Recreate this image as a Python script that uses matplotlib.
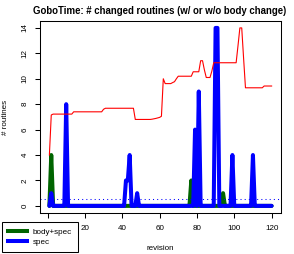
"""
GoboTime: number of changed routines per revision.

Thick lines for routines changed in body+spec and in spec only,
a thin red line on top, and a dotted line at the spec mean.
Saves out.png.
"""

import numpy as np
import matplotlib

matplotlib.use("Agg")
import matplotlib.pyplot as plt
from matplotlib.lines import Line2D


OUT_PNG = "out.png"

TITLE = "GoboTime: # changed routines (w/ or w/o body change)"
X_LABEL = "revision"
Y_LABEL = "# routines"
LEGEND_LABELS = ["body+spec", "spec"]

X_TICKS = [0, 20, 40, 60, 80, 100, 120]
# the "0" label sits under the legend in the original, so it is left blank
X_TICK_LABELS = ["", "20", "40", "60", "80", "100", "120"]
Y_TICKS = [0, 2, 4, 6, 8, 10, 12, 14]

revision = np.arange(1, 121)

body_spec = [
    0, 4, 0, 0, 0, 0, 0, 0, 0, 0,
    0, 0, 0, 0, 0, 0, 0, 0, 0, 0,
    0, 0, 0, 0, 0, 0, 0, 0, 0, 0,
    0, 0, 0, 0, 0, 0, 0, 0, 0, 0,
    0, 0, 0, 0, 0, 0, 0, 0, 0, 0,
    0, 0, 0, 0, 0, 0, 0, 0, 0, 0,
    0, 0, 0, 0, 0, 0, 0, 0, 0, 0,
    0, 0, 0, 0, 0, 0, 2, 0, 0, 0,
    0, 0, 0, 0, 0, 0, 0, 0, 0, 0,
    0, 0, 0, 1, 0, 0, 0, 0, 0, 0,
    0, 0, 0, 0, 0, 0, 0, 0, 0, 0,
    0, 0, 0, 0, 0, 0, 0, 0, 0, 0,
]

spec = [
    0, 1, 0, 0, 0, 0, 0, 0, 0, 8,
    0, 0, 0, 0, 0, 0, 0, 0, 0, 0,
    0, 0, 0, 0, 0, 0, 0, 0, 0, 0,
    0, 0, 0, 0, 0, 0, 0, 0, 0, 0,
    0, 2, 2, 4, 0, 0, 0, 1, 0, 0,
    0, 0, 0, 0, 0, 0, 0, 0, 0, 0,
    0, 0, 0, 0, 0, 0, 0, 0, 0, 0,
    0, 0, 0, 0, 0, 0, 0, 0, 6, 0,
    9, 0, 0, 0, 0, 0, 0, 0, 0, 14,
    14, 0, 0, 0, 0, 0, 0, 0, 4, 0,
    0, 0, 0, 0, 0, 0, 0, 0, 0, 4,
    0, 0, 0, 0, 0, 0, 0, 0, 0, 0,
]

# thin red series
total = [
    4.0, 7.15, 7.22, 7.22, 7.22, 7.22, 7.22, 7.22, 7.22, 7.22,
    7.22, 7.22, 7.22, 7.4, 7.4, 7.4, 7.4, 7.4, 7.4, 7.4,
    7.4, 7.4, 7.4, 7.4, 7.4, 7.4, 7.4, 7.4, 7.4, 7.6,
    7.68, 7.68, 7.68, 7.68, 7.68, 7.68, 7.68, 7.68, 7.68, 7.68,
    7.68, 7.68, 7.68, 7.68, 7.68, 7.68, 6.8, 6.8, 6.8, 6.8,
    6.8, 6.8, 6.8, 6.8, 6.8, 6.82, 6.85, 6.88, 6.92, 6.96,
    7.05, 10.0, 9.62, 9.62, 9.62, 9.62, 9.7, 9.77, 10.0, 10.2,
    10.2, 10.2, 10.2, 10.2, 10.2, 10.2, 10.2, 10.55, 10.55, 10.55,
    10.55, 11.42, 11.42, 10.7, 10.1, 10.1, 10.1, 10.6, 11.26, 11.26,
    11.26, 11.26, 11.26, 11.26, 11.26, 11.26, 11.26, 11.26, 11.26, 11.26,
    11.26, 12.6, 14.0, 14.0, 11.6, 9.29, 9.29, 9.29, 9.29, 9.29,
    9.29, 9.29, 9.29, 9.29, 9.29, 9.43, 9.43, 9.43, 9.43, 9.43,
]

GREEN = "#006400"
BLUE = "#0000ff"
RED = "#ff0000"
FS = 5.8


def plot() -> None:
    plt.rcParams["font.family"] = ["Liberation Sans", "DejaVu Sans"]

    fig = plt.figure(figsize=(2.94, 2.54), dpi=100)
    ax = fig.add_axes([40.5 / 294, 41 / 254, 240 / 294, 192.2 / 254])

    thick = dict(lw=2.9, solid_capstyle="round", solid_joinstyle="round")
    ax.plot(revision, body_spec, color=GREEN, zorder=2, **thick)
    ax.axhline(np.mean(spec), color=BLUE, lw=0.75, linestyle=(0, (1, 3)), zorder=2.5)
    ax.plot(revision, spec, color=BLUE, zorder=3, **thick)
    ax.plot(revision, total, color=RED, lw=0.8, zorder=4)

    # R-style 4% padding around the data range
    xr = revision.max() - revision.min()
    ax.set_xlim(revision.min() - 0.04 * xr, revision.max() + 0.04 * xr)
    ax.set_ylim(-0.04 * 14, 14 * 1.04)

    ax.set_xticks(X_TICKS)
    ax.set_xticklabels(X_TICK_LABELS)
    ax.set_yticks(Y_TICKS)
    ax.tick_params(axis="both", direction="out", length=3.6, width=0.75,
                   labelsize=FS, colors="black")
    ax.tick_params(axis="x", pad=5.2)
    ax.tick_params(axis="y", pad=5.0, labelrotation=90)
    for lab in ax.get_yticklabels():
        lab.set_verticalalignment("center")
    for sp in ax.spines.values():
        sp.set_linewidth(0.75)
        sp.set_color("black")

    fig.text(159.5 / 294, 1 - 10.5 / 254, TITLE, ha="center", va="center",
             fontsize=6.9, fontweight="bold")
    fig.text(160.5 / 294, 1 - 248.5 / 254, X_LABEL, ha="center", va="center", fontsize=FS)
    fig.text(6 / 294, 1 - 117 / 254, Y_LABEL, ha="center", va="center",
             rotation=90, fontsize=FS)

    handles = [Line2D([], [], color=GREEN, lw=2.9), Line2D([], [], color=BLUE, lw=2.9)]
    leg = fig.legend(handles, LEGEND_LABELS, loc="lower left",
                     bbox_to_anchor=(2 / 294, 1 - 251.7 / 254), borderaxespad=0,
                     fontsize=FS, handlelength=2.3, handletextpad=0.75,
                     labelspacing=0.3, borderpad=0.75, fancybox=False,
                     framealpha=1, edgecolor="black")
    leg.get_frame().set_linewidth(0.75)

    fig.savefig(OUT_PNG, dpi=100)
    plt.close(fig)


def main() -> None:
    plot()


if __name__ == "__main__":
    main()
